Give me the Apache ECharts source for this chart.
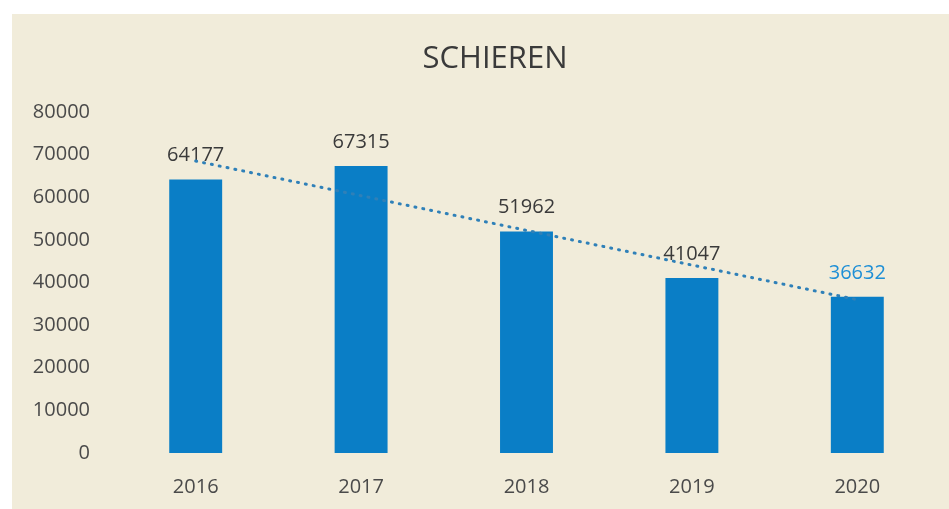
<!DOCTYPE html>
<html>
<head>
<meta charset="utf-8">
<script src="https://cdn.jsdelivr.net/npm/echarts@6/dist/echarts.min.js"></script>
<style>
    html, body { margin: 0; padding: 0; background: #fff; }
    .wrap { position: relative; width: 949px; height: 509px; }
    .paper { position: absolute; left: 12px; top: 14px; right: 0; bottom: 0; background: #f1ecda; }
    .bar { position: absolute; left: 0; top: 0; width: 949px; height: 509px; }
</style>
</head>
<body>
<div class="wrap">
    <div class="paper"></div>
    <div class="bar"></div>
</div>
<script>
// 数据
var years = ['2016', '2017', '2018', '2019', '2020'];
var counts = [64177, 67315, 51962, 41047, 36632];
// 趋势线两端
var trendEnds = [68500, 35960];
var yTicks = [0, 80000, 10000];

(function() {
    var myChart = echarts.init(document.querySelector('.bar'))
    var font = '"Open Sans", "Liberation Sans", sans-serif'
    var option = {
        backgroundColor: 'transparent',
        title: {
            text: 'SCHIEREN',
            left: 490,
            textAlign: 'center',
            top: 39,
            textStyle: {
                fontFamily: font,
                fontSize: 31,
                fontWeight: 'normal',
                color: '#3a3a3a'
            }
        },
        grid: {
            left: 113,
            right: 9,
            top: 112,
            bottom: 56
        },
        xAxis: {
            type: 'category',
            data: years,
            axisLine: { show: false },
            axisTick: { show: false },
            axisLabel: {
                margin: 24,
                fontFamily: font,
                fontSize: 20,
                color: '#4a4a4a'
            }
        },
        yAxis: {
            type: 'value',
            min: yTicks[0],
            max: yTicks[1],
            interval: yTicks[2],
            splitLine: { show: false },
            axisLine: { show: false },
            axisTick: { show: false },
            axisLabel: {
                margin: 23,
                fontFamily: font,
                fontSize: 20,
                color: '#4a4a4a',
                formatter: function(v) { return String(v) }
            }
        },
        series: [{
            type: 'bar',
            data: counts.map(function(v, i) {
                // 最后一个标签是蓝色
                if (i === counts.length - 1) {
                    return { value: v, label: { color: '#1e8fd6' } }
                }
                return v
            }),
            barWidth: '32%',
            itemStyle: { color: '#0a7ec6' },
            label: {
                show: true,
                position: 'top',
                distance: 14,
                fontFamily: font,
                fontSize: 20,
                color: '#3a3a3a'
            },
            markLine: {
                silent: true,
                symbol: ['none', 'none'],
                label: { show: false },
                lineStyle: {
                    color: '#2f80b8',
                    width: 3,
                    type: [1, 7],
                    cap: 'round'
                },
                data: [[
                    { coord: [years[0], trendEnds[0]] },
                    { coord: [years[years.length - 1], trendEnds[1]] }
                ]]
            }
        }]
    }
    myChart.setOption(option)
    window.addEventListener('resize', function() {
        myChart.resize()
    })
})();
</script>
</body>
</html>
